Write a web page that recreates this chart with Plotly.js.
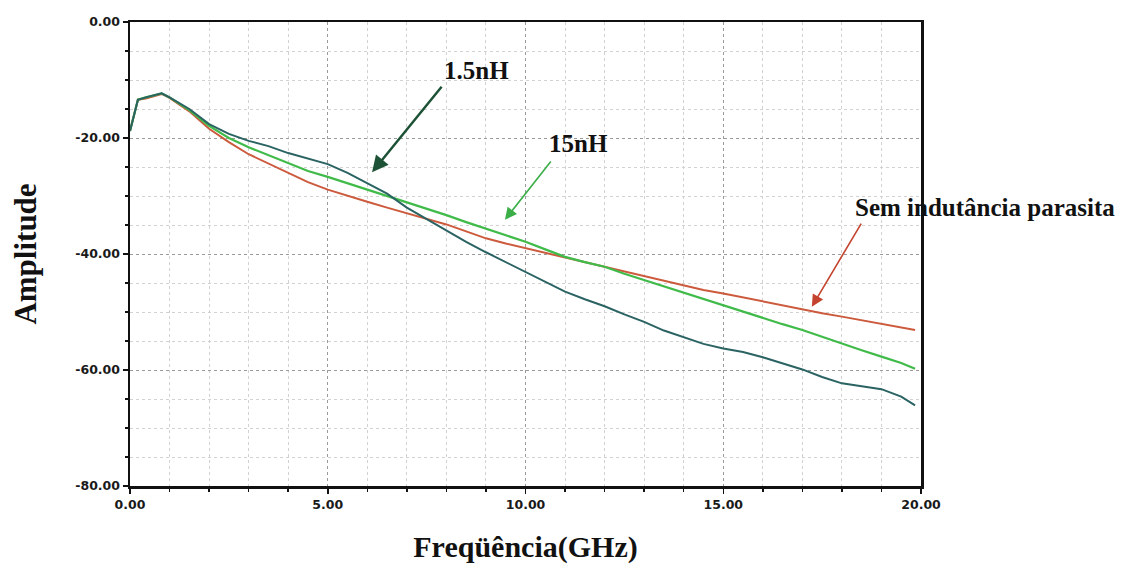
<!DOCTYPE html>
<html>
<head>
<meta charset="utf-8">
<script src="https://cdn.plot.ly/plotly-3.0.1.min.js"></script>
<style>html,body{margin:0;padding:0;background:#fff;}#chart{width:1137px;height:564px;}</style>
</head>
<body>
<div id="chart"></div>
<script>
// Frequency (GHz)
const freq = [0, 0.1, 0.2, 0.4, 0.6, 0.8, 1.0, 1.5, 2, 2.5, 3, 3.5, 4, 4.5, 5, 5.5, 6, 6.5, 7, 7.5, 8, 8.5, 9, 9.5, 10, 10.5, 11, 11.5, 12, 12.5, 13, 13.5, 14, 14.5, 15, 15.5, 16, 16.5, 17, 17.5, 18, 18.5, 19, 19.5, 19.85];
// Amplitude series
const semIndutancia = [-18.8, -16.0, -13.4, -13.2, -12.8, -12.4, -13.1, -15.4, -18.4, -20.7, -22.8, -24.4, -26.0, -27.6, -28.9, -30.0, -31.0, -32.0, -33.0, -34.0, -34.9, -36.1, -37.3, -38.2, -39.0, -39.8, -40.6, -41.4, -42.2, -43.0, -43.9, -44.7, -45.5, -46.2, -46.8, -47.5, -48.1, -48.9, -49.6, -50.2, -50.8, -51.4, -52.0, -52.6, -53.1];
const ind15nH = [-18.8, -16.0, -13.4, -13.0, -12.6, -12.3, -13.0, -15.2, -17.9, -20.0, -21.6, -23.0, -24.4, -25.7, -26.7, -27.8, -28.8, -29.9, -31.0, -32.1, -33.3, -34.5, -35.6, -36.8, -37.9, -39.2, -40.5, -41.4, -42.2, -43.4, -44.5, -45.6, -46.7, -47.8, -48.8, -50.0, -51.1, -52.1, -53.1, -54.3, -55.4, -56.6, -57.7, -58.8, -59.8];
const ind1_5nH = [-18.8, -16.0, -13.4, -13.0, -12.6, -12.3, -13.0, -15.0, -17.6, -19.3, -20.5, -21.4, -22.6, -23.5, -24.5, -26.0, -27.8, -29.6, -32.0, -34.0, -35.9, -37.9, -39.7, -41.4, -43.0, -44.8, -46.5, -47.8, -49.0, -50.4, -51.7, -53.2, -54.4, -55.5, -56.3, -56.9, -57.8, -58.9, -59.9, -61.2, -62.3, -62.8, -63.3, -64.6, -66.1];
const labels = ["1.5nH", "15nH", "Sem indutância parasita"];
// Tick labels
const xTickVals = [0, 5, 10, 15, 20];
const xTickText = ["0.00", "5.00", "10.00", "15.00", "20.00"];
const yTickVals = [0, -20, -40, -60, -80];
const yTickText = ["0.00", "-20.00", "-40.00", "-60.00", "-80.00"];

const serif = "Liberation Serif, Times New Roman, serif";
const sans = "DejaVu Sans, Arial, sans-serif";

const traces = [
  {x: freq, y: semIndutancia, mode: 'lines', name: labels[2], line: {color: '#cc5a3c', width: 2}},
  {x: freq, y: ind15nH, mode: 'lines', name: labels[1], line: {color: '#40bb4a', width: 2.2}},
  {x: freq, y: ind1_5nH, mode: 'lines', name: labels[0], line: {color: '#2b6363', width: 2}}
];

const axisCommon = {
  showline: true, linecolor: '#111', linewidth: 2.5, mirror: true,
  ticks: 'outside', ticklen: 5, tickcolor: '#111', tickwidth: 1.5,
  showgrid: true, gridcolor: '#9a9a9a', griddash: 'dot', gridwidth: 1,
  zeroline: false, tickmode: 'array',
  tickfont: {family: sans, size: 12.5, color: '#1a1a1a', weight: 'bold'},
  automargin: false
};

const layout = {
  width: 1137, height: 564,
  margin: {l: 130, r: 216, t: 22, b: 78},
  paper_bgcolor: '#fff', plot_bgcolor: '#fff',
  showlegend: false,
  xaxis: Object.assign({}, axisCommon, {
    range: [0, 20], tickvals: xTickVals, ticktext: xTickText,
    minor: {dtick: 1, tick0: 0, showgrid: true, gridcolor: '#d2d2d2', griddash: 'dot', ticks: 'outside', ticklen: 3, tickcolor: '#111'},
    title: {text: 'Freqüência(GHz)', font: {family: serif, size: 30, color: '#111', weight: 'bold'}, standoff: 26}
  }),
  yaxis: Object.assign({}, axisCommon, {
    range: [-80, 0], tickvals: yTickVals, ticktext: yTickText,
    minor: {dtick: 5, tick0: 0, showgrid: true, gridcolor: '#d2d2d2', griddash: 'dot', ticks: 'outside', ticklen: 3, tickcolor: '#111'},
    title: {text: 'Amplitude', font: {family: serif, size: 31, color: '#111', weight: 'bold'}, standoff: 30}
  }),
  annotations: [
    {x: 8.77, y: -8.4, xref: 'x', yref: 'y', text: labels[0], showarrow: false, font: {family: serif, size: 25, color: '#111', weight: 'bold'}},
    {x: 6.12, y: -25.9, ax: 7.91, ay: -10.9, axref: 'x', ayref: 'y', xref: 'x', yref: 'y', text: '', showarrow: true, arrowhead: 2, arrowsize: 1.3, arrowwidth: 2.5, arrowcolor: '#1d5236'},
    {x: 11.35, y: -20.9, xref: 'x', yref: 'y', text: labels[1], showarrow: false, font: {family: serif, size: 25, color: '#111', weight: 'bold'}},
    {x: 9.48, y: -34.1, ax: 10.67, ay: -23.8, axref: 'x', ayref: 'y', xref: 'x', yref: 'y', text: '', showarrow: true, arrowhead: 2, arrowsize: 1.5, arrowwidth: 1.6, arrowcolor: '#3cae48'},
    {x: 18.28, y: -31.9, xref: 'x', yref: 'y', xanchor: 'left', text: labels[2], showarrow: false, font: {family: serif, size: 25, color: '#111', weight: 'bold'}},
    {x: 17.24, y: -49.1, ax: 18.51, ay: -34.5, axref: 'x', ayref: 'y', xref: 'x', yref: 'y', text: '', showarrow: true, arrowhead: 2, arrowsize: 1.5, arrowwidth: 1.6, arrowcolor: '#c4432e'}
  ]
};

Plotly.newPlot('chart', traces, layout, {displayModeBar: false, staticPlot: true});
</script>
</body>
</html>
